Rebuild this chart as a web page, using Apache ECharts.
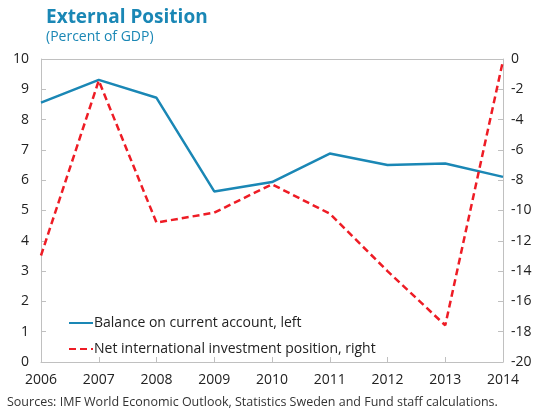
<!DOCTYPE html>
<html>
<head>
<meta charset="utf-8">
<script src="https://cdn.jsdelivr.net/npm/echarts@6/dist/echarts.min.js"></script>
<style>
    html, body { margin: 0; padding: 0; background: #fff; }
    #chart { width: 547px; height: 415px; }
</style>
</head>
<body>
<div id="chart"></div>
<script>
    // years on the x axis
    var years = ['2006', '2007', '2008', '2009', '2010', '2011', '2012', '2013', '2014'];
    // balance on current account, % of GDP (left axis)
    var currentAccount = [8.56, 9.31, 8.72, 5.63, 5.94, 6.88, 6.50, 6.55, 6.11];
    // net international investment position, % of GDP (right axis)
    var niip = [-12.97, -1.43, -10.80, -10.14, -8.27, -10.21, -14.0, -17.58, -0.11];

    var blue = '#1a87b5';
    var red = '#ee1c25';
    var font = 'Open Sans';

    var chart = echarts.init(document.getElementById('chart'));
    chart.setOption({
        animation: false,
        textStyle: { fontFamily: font },
        title: [
            {
                text: 'External Position',
                subtext: '(Percent of GDP)',
                left: 41,
                top: 3,
                itemGap: 3,
                textStyle: { color: blue, fontSize: 19, fontWeight: 'bold', fontFamily: font },
                subtextStyle: { color: blue, fontSize: 14, fontFamily: font }
            },
            {
                text: 'Sources: IMF World Economic Outlook, Statistics Sweden and Fund staff calculations.',
                left: 2,
                bottom: 1,
                textStyle: { color: '#333', fontSize: 12.5, fontWeight: 'normal', fontFamily: font }
            }
        ],
        grid: { left: 41, right: 44, top: 59, bottom: 53, containLabel: false },
        legend: {
            orient: 'vertical',
            left: 63,
            top: 311,
            itemWidth: 24,
            itemGap: 12,
            itemHeight: 10,
            itemStyle: { opacity: 0 },
            textStyle: { fontSize: 14, color: '#222', fontFamily: font, padding: [0, 0, 0, -4] },
            data: ['Balance on current account, left', 'Net international investment position, right']
        },
        xAxis: {
            type: 'category',
            data: years,
            boundaryGap: false,
            axisLine: { lineStyle: { color: '#c0c0c0' } },
            axisTick: { inside: true, length: 5, lineStyle: { color: '#c0c0c0' } },
            axisLabel: { color: '#222', fontSize: 14, margin: 11 },
            splitLine: { show: false }
        },
        yAxis: [
            {
                type: 'value',
                min: 0,
                max: 10,
                interval: 1,
                axisLine: { show: true, lineStyle: { color: '#c0c0c0' } },
                axisTick: { show: true, inside: true, length: 5, lineStyle: { color: '#c0c0c0' } },
                axisLabel: { color: '#222', fontSize: 14, margin: 12 },
                splitLine: { show: false }
            },
            {
                type: 'value',
                min: -20,
                max: 0,
                interval: 2,
                axisLine: { show: true, lineStyle: { color: '#c0c0c0' } },
                axisTick: { show: true, inside: true, length: 5, lineStyle: { color: '#c0c0c0' } },
                axisLabel: { color: '#222', fontSize: 14, margin: 8 },
                splitLine: { show: false }
            }
        ],
        graphic: [
            { // top border of the plot box
                type: 'line',
                shape: { x1: 41, y1: 59.5, x2: 503, y2: 59.5 },
                style: { stroke: '#c0c0c0', lineWidth: 1 }
            }
        ],
        series: [
            {
                name: 'Balance on current account, left',
                type: 'line',
                yAxisIndex: 0,
                data: currentAccount,
                symbol: 'none',
                lineStyle: { color: blue, width: 2.5 },
                itemStyle: { color: blue }
            },
            {
                name: 'Net international investment position, right',
                type: 'line',
                yAxisIndex: 1,
                data: niip,
                symbol: 'none',
                lineStyle: { color: red, width: 2.5, type: [7, 4] },
                itemStyle: { color: red }
            }
        ]
    });
</script>
</body>
</html>
